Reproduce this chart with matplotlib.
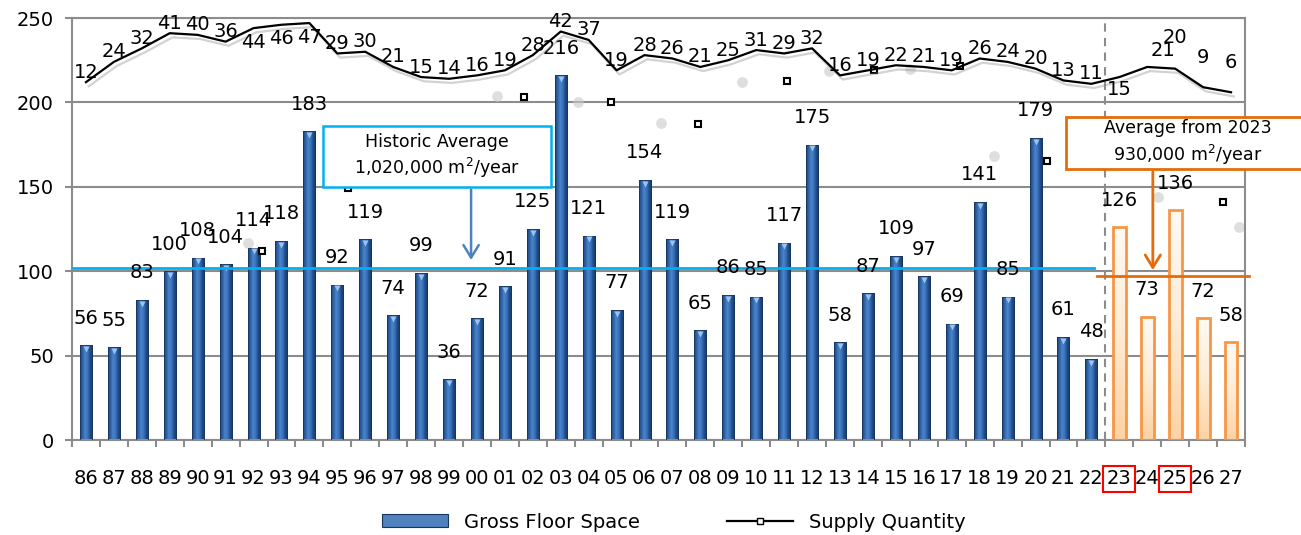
import matplotlib
matplotlib.use('Agg')
import matplotlib.pyplot as plt
import matplotlib.patheffects as pe
from matplotlib.colors import LinearSegmentedColormap
from matplotlib.patches import Rectangle
from matplotlib.lines import Line2D
import numpy as np

# ---- data ----
years = ['86', '87', '88', '89', '90', '91', '92', '93', '94', '95', '96', '97', '98', '99',
         '00', '01', '02', '03', '04', '05', '06', '07', '08', '09', '10', '11', '12', '13',
         '14', '15', '16', '17', '18', '19', '20', '21', '22', '23', '24', '25', '26', '27']
floor_space = [56, 55, 83, 100, 108, 104, 114, 118, 183, 92, 119, 74, 99, 36,
               72, 91, 125, 216, 121, 77, 154, 119, 65, 86, 85, 117, 175, 58,
               87, 109, 97, 69, 141, 85, 179, 61, 48, 126, 73, 136, 72, 58]
supply_qty = [12, 24, 32, 41, 40, 36, 44, 46, 47, 29, 30, 21, 15, 14,
              16, 19, 28, 42, 37, 19, 28, 26, 21, 25, 31, 29, 32, 16,
              19, 22, 21, 19, 26, 24, 20, 13, 11, 15, 21, 20, 9, 6]
n_actual = 37          # 1986-2022 built, 2023-2027 planned
historic_avg = 102
future_avg = 97

# stray marker leftovers visible in the chart
stray_sq_x = [6.3, 9.4, 15.7, 18.8, 21.9, 25.1, 28.2, 31.3, 34.4, 40.7]
stray_sq_y = [112, 149, 203, 200, 187, 212.5, 219, 221.5, 165, 141]
stray_dot_x = [5.8, 14.7, 17.6, 20.6, 23.5, 26.6, 29.5, 32.5, 38.4, 41.3]
stray_dot_y = [117, 204, 200, 188, 212, 218.5, 220, 168, 144, 126]

# label placement tweaks for the supply line (pixels)
line_lbl_dy = {6: -14, 7: -14, 8: -14, 37: -12, 38: 16, 39: 31, 40: 30, 41: 30}
line_lbl_dx = {38: 16}

plt.rcParams['font.family'] = 'DejaVu Sans'
fig = plt.figure(figsize=(13.01, 5.35), dpi=100)
ax = fig.add_axes([72 / 1301, 1 - 440 / 535, (1245 - 72) / 1301, (440 - 18) / 535])

x = np.arange(len(years))
grey = '#8c8c8c'

# ---- bars with gradient fill ----
blue_cmap = LinearSegmentedColormap.from_list(
    'cyl', ['#1b4379', '#2f64a8', '#4a84cc', '#3a72bb', '#1f4b86', '#163a6b'])
orange_cmap = LinearSegmentedColormap.from_list('peach', ['#fffaf3', '#feecd6', '#fdd2a4'])
hgrad = np.linspace(0, 1, 64).reshape(1, -1)
vgrad = np.linspace(0, 1, 64).reshape(-1, 1)

for i, v in enumerate(floor_space):
    if i < n_actual:
        w = 0.43
        bar = ax.bar(x[i], v, w, color='none', edgecolor='#17365d', lw=0.6, zorder=3)[0]
        im = ax.imshow(hgrad, extent=[x[i] - w / 2, x[i] + w / 2, 0, v], cmap=blue_cmap,
                       aspect='auto', zorder=2)
        im.set_clip_path(bar)
        ax.plot(x[i], v - 2.2, marker='v', ms=5, color='#9cc2ee', mec='none', zorder=4)
    else:
        w = 0.46
        bar = ax.bar(x[i], v, w, color='none', edgecolor='#f79646', lw=2, zorder=3)[0]
        im = ax.imshow(vgrad, extent=[x[i] - w / 2, x[i] + w / 2, 0, v], cmap=orange_cmap,
                       aspect='auto', zorder=2, origin='upper')
        im.set_clip_path(bar)
    ax.annotate(str(v), (x[i], v), xytext=(0, 19.5), textcoords='offset points',
                ha='center', va='center', fontsize=14, zorder=6)

# stray markers
ax.scatter(stray_dot_x, stray_dot_y, s=60, color='#c8c8c8', alpha=0.6, lw=0, zorder=2)
ax.plot(stray_sq_x, stray_sq_y, ls='none', marker='s', ms=5, mfc='white', mec='black',
        mew=1.5, zorder=4)

# averages, divider
ax.plot([-0.5, 36.1], [historic_avg] * 2, color='#00b0f0', lw=2, zorder=5)
ax.plot([36.2, 41.65], [future_avg] * 2, color='#e46c0a', lw=2, zorder=5, clip_on=False)
ax.axvline(n_actual - 0.5, color=grey, ls=(0, (4, 3)), lw=1.5, zorder=1)

# annotation boxes
ax.add_patch(Rectangle((8.49, 150), 8.16, 36, facecolor='white', edgecolor='#00b0f0',
                       lw=1.8, zorder=7))
ax.text(12.57, 168, 'Historic Average\n1,020,000 m$^2$/year', ha='center', va='center',
        fontsize=12.5, linespacing=1.3, zorder=8)
ax.annotate('', xy=(13.79, 105), xytext=(13.79, 150),
            arrowprops=dict(arrowstyle='->,head_length=0.9,head_width=0.55',
                            color='#4f81bd', lw=1.8), zorder=7)

ax.add_patch(Rectangle((35.09, 160.5), 8.8, 31, facecolor='white', edgecolor='#e46c0a',
                       lw=2, zorder=7, clip_on=False))
ax.text(39.46, 176, 'Average from 2023\n930,000 m$^2$/year', ha='center', va='center',
        fontsize=12.5, linespacing=1.3, zorder=8)
ax.annotate('', xy=(38.2, 99), xytext=(38.2, 160.5),
            arrowprops=dict(arrowstyle='->,head_length=0.9,head_width=0.55',
                            color='#e46c0a', lw=2), zorder=7)

# ---- supply quantity line on its own scale ----
ax2 = ax.twinx()
ax2.set_ylim(-200, 50)
ax2.plot(x, supply_qty, color='black', lw=1.6, zorder=5,
         path_effects=[pe.SimpleLineShadow(offset=(2, -3), shadow_color='grey', alpha=0.35),
                       pe.Normal()])
for i, v in enumerate(supply_qty):
    dy = line_lbl_dy.get(i, 10) * 0.72
    dx = line_lbl_dx.get(i, 0) * 0.72
    ax2.annotate(str(v), (x[i], v), xytext=(dx, dy), textcoords='offset points',
                 ha='center', va='center', fontsize=14, zorder=6)
ax2.set_yticks([])
for s in ax2.spines.values():
    s.set_visible(False)

# ---- axes cosmetics ----
ax.set_xlim(-0.5, len(years) - 0.5)
ax.set_ylim(0, 250)
ax.set_yticks(range(0, 251, 50))
ax.yaxis.grid(True, color=grey, lw=1.5)
ax.set_axisbelow(True)
ax.set_xticks(x)
ax.set_xticklabels(years)
ax.set_xticks(np.arange(-0.5, len(years), 1), minor=True)
ax.tick_params(axis='x', which='major', length=0, pad=21, labelsize=14)
ax.tick_params(axis='x', which='minor', length=5, color=grey, width=1.5)
ax.tick_params(axis='y', length=5, color=grey, width=1.5, pad=8, labelsize=14)
for s in ax.spines.values():
    s.set_color(grey)
    s.set_linewidth(1.5)

for k in (37, 39):
    ax.get_xticklabels()[k].set_bbox(dict(facecolor='none', edgecolor='red', lw=1.5, pad=2.5))

handles = [Rectangle((0, 0), 1, 1, facecolor='#4f81bd', edgecolor='#17365d', lw=0.8),
           Line2D([], [], color='black', lw=1.6, marker='s', ms=4, mfc='white', mec='black')]
fig.legend(handles, ['Gross Floor Space', 'Supply Quantity'], loc='center',
           bbox_to_anchor=(0.518, 1 - 522 / 535), ncol=2, frameon=False, fontsize=14,
           handlelength=3.4, handleheight=0.6, columnspacing=4.5)

fig.savefig('out.png', dpi=100)
